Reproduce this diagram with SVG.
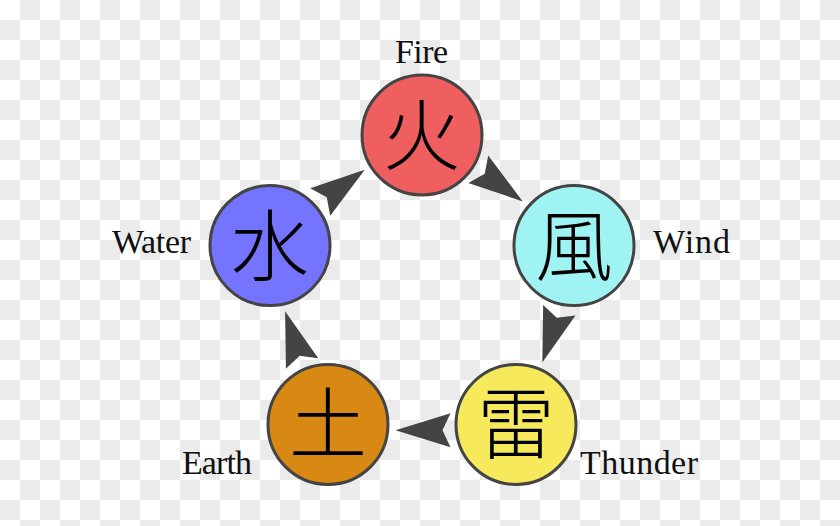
<svg xmlns="http://www.w3.org/2000/svg" width="840" height="526" viewBox="0 0 840 526">
  <style>
    .node circle { stroke: #444444; stroke-width: 3; }
    .kanji { font-family: "Noto Sans CJK JP", "Noto Sans CJK SC", sans-serif; font-size: 78px; font-weight: 300; fill: #000000; text-anchor: middle; }
    .label { font-family: "Liberation Serif", "Times New Roman", serif; font-size: 34px; fill: #111111; }
    .arrow { fill: #444444; }
  </style>
  <defs>
    <pattern id="checker" x="0" y="0" width="40" height="40" patternUnits="userSpaceOnUse">
      <rect width="40" height="40" fill="#ffffff"/>
      <rect x="20" y="0" width="20" height="20" fill="#ebebeb"/>
      <rect x="0" y="20" width="20" height="20" fill="#ebebeb"/>
    </pattern>
    <path id="dart" d="M27.5,0 L-27.5,-17 L-19.5,0 L-27.5,17 Z"/>
  </defs>
  <rect width="840" height="526" fill="url(#checker)"/>

  <g id="connectors" class="arrow">
    <use href="#dart" transform="translate(500.5,185.3) rotate(36)"/>
    <use href="#dart" transform="translate(550.8,336.3) rotate(108)"/>
    <use href="#dart" transform="translate(423,430.2) rotate(180)"/>
    <use href="#dart" transform="translate(293.6,337.3) rotate(252)"/>
    <use href="#dart" transform="translate(342.5,185.8) rotate(324)"/>
  </g>

  <g id="fire" class="node">
    <circle cx="422" cy="135" r="60" fill="#ef5f5f"/>
    <text class="kanji" x="422" y="164">火</text>
    <text class="label" x="395" y="63.3" textLength="53">Fire</text>
  </g>
  <g id="wind" class="node">
    <circle cx="574" cy="245.6" r="60" fill="#a0f3f3"/>
    <text class="kanji" x="574" y="274.6">風</text>
    <text class="label" x="653" y="253.3" textLength="77">Wind</text>
  </g>
  <g id="thunder" class="node">
    <circle cx="516" cy="424.4" r="60" fill="#f7e95c"/>
    <text class="kanji" x="516" y="453.4">雷</text>
    <text class="label" x="580" y="474.3" textLength="118">Thunder</text>
  </g>
  <g id="earth" class="node">
    <circle cx="328" cy="424.4" r="60" fill="#d78913"/>
    <text class="kanji" x="328" y="453.4">土</text>
    <text class="label" x="182" y="474.3" textLength="70">Earth</text>
  </g>
  <g id="water" class="node">
    <circle cx="270" cy="245.6" r="60" fill="#7474fe"/>
    <text class="kanji" x="270" y="274.6">水</text>
    <text class="label" x="112" y="253.3" textLength="79">Water</text>
  </g>
</svg>
